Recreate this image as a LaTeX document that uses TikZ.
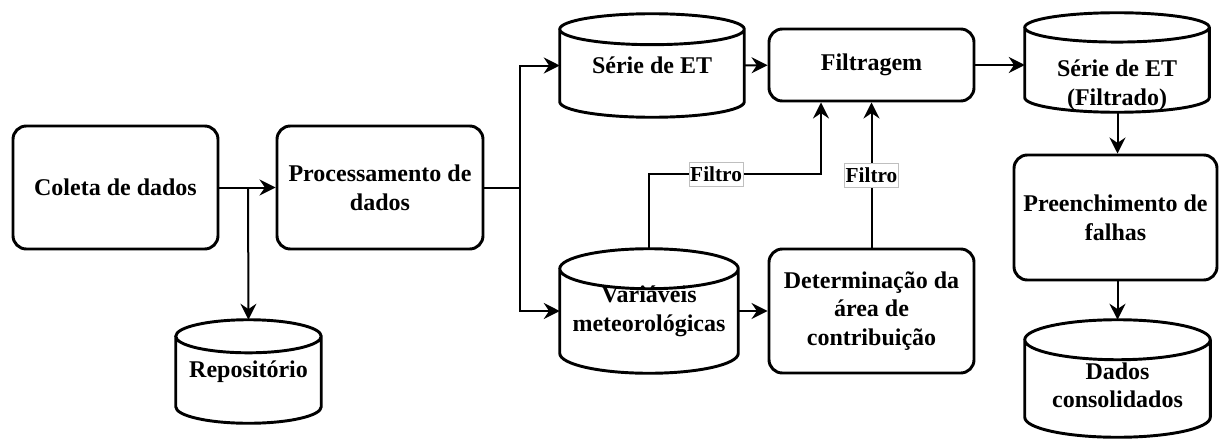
\documentclass[tikz,border=0pt]{standalone}
\usepackage{fontspec}
\setmainfont{Liberation Serif}
\usetikzlibrary{arrows.meta,positioning,calc}
% outline of a data store drawn round a named node, #2 = radius of the ends
\newcommand\drum[2]{%
  \draw[line width=2.2pt] let \p1=(#1.north west), \p2=(#1.south east), \n1={(\x2-\x1)/2} in
    (\x1,{\y1-#2}) -- (\x1,{\y2+#2}) arc[start angle=180,end angle=360,x radius=\n1,y radius=#2]
    -- (\x2,{\y1-#2}) arc[start angle=0,end angle=360,x radius=\n1,y radius=#2];}

\begin{document}
\begin{tikzpicture}[x=0.75pt,y=-0.75pt,
  box/.style={draw,line width=2.2pt,rounded corners=10pt,align=center,
    font=\fontsize{18}{21.5}\selectfont\bfseries},
  db/.style={align=center,inner sep=0pt,font=\fontsize{18}{21.5}\selectfont\bfseries},
  dbtext/.style={align=center,inner sep=0pt,font=\fontsize{18}{21.5}\selectfont\bfseries},
  lbl/.style={fill=white,draw=black!25,line width=0.4pt,inner xsep=1pt,inner ysep=3.5pt,
    font=\fontsize{16}{18}\selectfont\bfseries},
  >={Stealth[length=12pt,width=12pt,inset=4pt]}]
\useasboundingbox (0,0) rectangle (1219,439);
\node[box,minimum width=153.75pt,minimum height=92.25pt] (coleta) at (115.5,187.5) {Coleta de dados};
\node[box,minimum width=154.5pt,minimum height=92.25pt] (proc) at (380,187.5) {Processamento de\\dados};
\node[db,minimum width=108.75pt,minimum height=77.25pt] (repo) at (248.5,371.5) {Repositório};
\node[db,minimum width=138pt,minimum height=77.25pt] (serie) at (652,65.5) {Série de ET};
\node[db,minimum width=133.5pt,minimum height=93pt] (meteo) at (649,311) {Variáveis\\meteorológicas};
\node[box,minimum width=153.75pt,minimum height=54pt] (filtragem) at (871.5,65) {Filtragem};
\node[box,minimum width=153.75pt,minimum height=93pt] (area) at (871.5,311) {Determinação da\\área de\\contribuição};
\node[db,minimum width=138pt,minimum height=74.25pt,
  label={[dbtext,yshift=-17pt]center:Série de ET\\(Filtrado)}] (filtrado) at (1117,62.5) {};
\node[box,minimum width=152.25pt,minimum height=93.75pt] (falhas) at (1115.5,217.5) {Preenchimento de\\falhas};
\node[db,minimum width=138.75pt,minimum height=87.75pt,
  label={[dbtext,yshift=-5pt]center:Dados\\consolidados}] (dados) at (1117.5,378.5) {};
\drum{repo}{12.4pt}
\drum{serie}{11.6pt}
\drum{meteo}{15pt}
\drum{filtrado}{11pt}
\drum{dados}{15pt}
\coordinate (c1) at (248,187.5);
\coordinate (c2) at (520,187.5);
\coordinate (c3) at (821,174);
\path[->,line width=1.5pt]
(coleta) edge (proc)
(c1) edge (repo.north)
(serie) edge (filtragem)
(meteo.east |- area) edge (area)
(filtragem.east) edge (filtragem.east -| filtrado.west)
(filtrado.south -| dados) edge (falhas.north -| dados)
(falhas.south -| dados) edge (dados.north);
\draw[->,line width=1.5pt] (proc) -- (c2) |- (serie);
\draw[->,line width=1.5pt] (c2) |- (meteo);
\draw[->,line width=1.5pt] (meteo.north) |- node[lbl,pos=0.695] {Filtro} (c3) -- (c3 |- filtragem.south);
\draw[->,line width=1.5pt] (area.north) -- node[lbl] {Filtro} (area.north |- filtragem.south);
\end{tikzpicture}
\end{document}
